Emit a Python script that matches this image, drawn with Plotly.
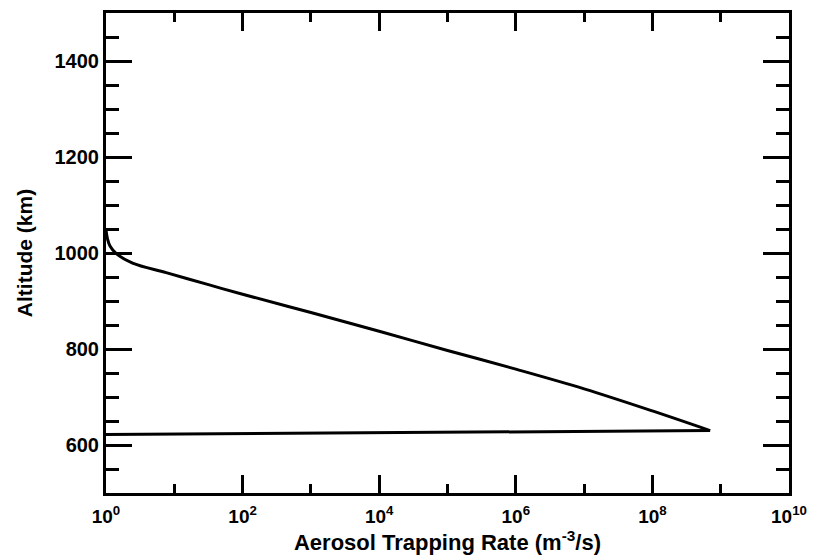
import plotly.graph_objects as go

# Data (rate in m^-3/s, altitude in km)
upper_rate = [1.0, 1.05, 1.15, 1.43, 2.45, 7.6, 31.6, 100, 1e3, 1e4, 1e5,
              1e6, 1e7, 1e8, 7.0e8]
upper_alt = [1048, 1030, 1014, 998, 979, 959, 934, 914, 876, 837, 797,
             758, 717, 671, 630]
lower_rate = [7.0e8, 1.0]
lower_alt = [630, 622]

x_major = [1, 1e2, 1e4, 1e6, 1e8, 1e10]
x_major_text = ["10<sup>0</sup>", "10<sup>2</sup>", "10<sup>4</sup>",
                "10<sup>6</sup>", "10<sup>8</sup>", "10<sup>10</sup>"]
x_minor = [1e1, 1e3, 1e5, 1e7, 1e9]
y_major = [600, 800, 1000, 1200, 1400]
y_minor = [550, 650, 700, 750, 850, 900, 950, 1050, 1100, 1150, 1250, 1300,
           1350, 1450]

FONT = "Liberation Sans, Arial, sans-serif"

fig = go.Figure()
fig.add_trace(go.Scatter(x=upper_rate, y=upper_alt, mode="lines",
                         line=dict(color="black", width=3, shape="spline",
                                   smoothing=1.0),
                         showlegend=False, hoverinfo="skip"))
fig.add_trace(go.Scatter(x=lower_rate, y=lower_alt, mode="lines",
                         line=dict(color="black", width=3),
                         showlegend=False, hoverinfo="skip"))

fig.update_layout(
    width=817, height=559,
    margin=dict(l=106, r=23, t=10, b=66),
    paper_bgcolor="white", plot_bgcolor="white",
    font=dict(family=FONT, color="black", size=20, weight="bold"),
)
fig.update_xaxes(
    type="log", range=[0, 10],
    tickmode="array", tickvals=x_major, ticktext=x_major_text,
    ticks="inside", ticklen=18, tickwidth=2.5, tickcolor="black",
    minor=dict(tickmode="array", tickvals=x_minor, ticks="inside",
               ticklen=9, tickwidth=2.5, tickcolor="black", showgrid=False),
    showline=True, linewidth=3, linecolor="black", mirror="ticks",
    showgrid=False, zeroline=False,
    ticklabelstandoff=4,
    tickfont=dict(family=FONT, size=19, weight="bold"),
    title=dict(text="Aerosol Trapping Rate (m<sup>-3</sup>/s)",
               font=dict(family=FONT, size=22, weight="bold"), standoff=6),
)
fig.update_yaxes(
    range=[500, 1500],
    tickmode="array", tickvals=y_major,
    ticks="inside", ticklen=26, tickwidth=2.5, tickcolor="black",
    minor=dict(tickmode="array", tickvals=y_minor, ticks="inside",
               ticklen=13, tickwidth=2.5, tickcolor="black", showgrid=False),
    showline=True, linewidth=3, linecolor="black", mirror="ticks",
    showgrid=False, zeroline=False,
    tickfont=dict(family=FONT, size=20, weight="bold"),
    title=dict(text="Altitude (km)",
               font=dict(family=FONT, size=21, weight="bold"), standoff=17),
)

fig.write_html("out.html")
